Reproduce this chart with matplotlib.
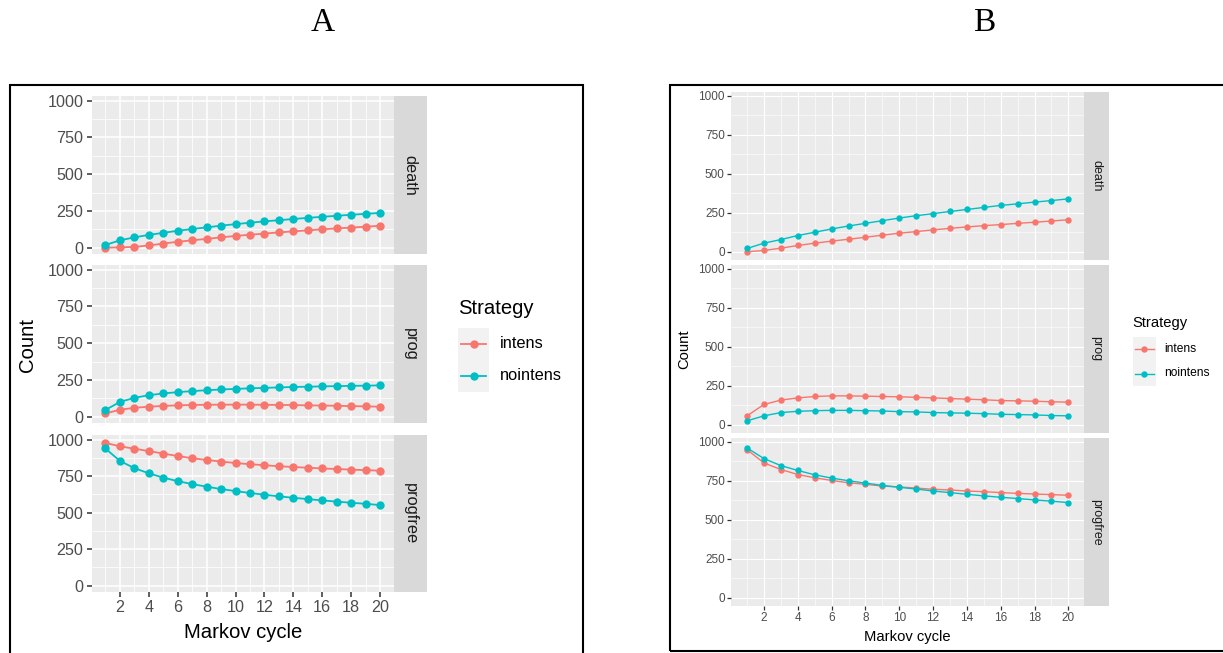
import matplotlib
matplotlib.use("Agg")
import matplotlib.pyplot as plt
from matplotlib.lines import Line2D
from matplotlib.patches import Rectangle

plt.rcParams["font.family"] = ["Liberation Sans", "DejaVu Sans"]

# --- data ---
cycles = list(range(1, 21))
states = ["death", "prog", "progfree"]
strategies = ["intens", "nointens"]
colors = {"intens": "#F8766D", "nointens": "#00BFC4"}

# panel A
a_death_intens = [0, 2, 5, 15, 28, 40, 50, 60, 70, 80, 88, 96, 104, 111, 118, 125, 131, 137, 143, 149]
a_death_nointens = [18, 50, 70, 87, 101, 115, 127, 138, 150, 160, 170, 179, 187, 195, 203, 210, 217, 224, 230, 237]
a_prog_intens = [22, 47, 60, 68, 73, 77, 80, 81, 82, 82, 82, 81, 80, 79, 77, 76, 74, 72, 70, 68]
a_prog_nointens = [45, 100, 128, 146, 158, 167, 174, 180, 185, 189, 193, 196, 199, 202, 204, 206, 208, 210, 211, 213]
a_progfree_intens = [978, 955, 938, 922, 905, 888, 873, 861, 850, 840, 832, 825, 818, 813, 808, 803, 799, 795, 791, 788]
a_progfree_nointens = [940, 855, 805, 770, 740, 716, 696, 678, 662, 648, 635, 623, 612, 602, 593, 584, 576, 568, 561, 552]

# panel B
b_death_intens = [0, 8, 23, 40, 55, 68, 80, 93, 106, 119, 129, 140, 150, 159, 167, 174, 182, 189, 197, 205]
b_death_nointens = [21, 55, 78, 104, 125, 146, 165, 182, 199, 216, 231, 244, 258, 271, 284, 297, 307, 318, 328, 339]
b_prog_intens = [57, 130, 158, 172, 181, 185, 185, 183, 181, 179, 176, 172, 168, 164, 160, 155, 153, 151, 147, 145]
b_prog_nointens = [25, 57, 78, 86, 90, 92, 92, 90, 88, 84, 82, 78, 76, 74, 71, 67, 65, 63, 59, 57]
b_progfree_intens = [949, 864, 822, 790, 769, 752, 737, 727, 716, 710, 703, 695, 691, 684, 680, 674, 669, 665, 661, 657]
b_progfree_nointens = [960, 892, 847, 816, 788, 767, 750, 735, 720, 708, 697, 684, 674, 663, 653, 644, 636, 627, 619, 610]

data_a = {
    "death": {"intens": a_death_intens, "nointens": a_death_nointens},
    "prog": {"intens": a_prog_intens, "nointens": a_prog_nointens},
    "progfree": {"intens": a_progfree_intens, "nointens": a_progfree_nointens},
}
data_b = {
    "death": {"intens": b_death_intens, "nointens": b_death_nointens},
    "prog": {"intens": b_prog_intens, "nointens": b_prog_nointens},
    "progfree": {"intens": b_progfree_intens, "nointens": b_progfree_nointens},
}

W, H = 1223, 653
fig = plt.figure(figsize=(W / 100, H / 100), dpi=100)


def fx(x):
    return x / W


def fy(y):
    return 1 - y / H


def rect(x0, y0, x1, y1):
    return [fx(x0), fy(y1), (x1 - x0) / W, (y1 - y0) / H]


def draw_chart(data, g):
    for i, state in enumerate(states):
        top, bottom = g["rows"][i]
        ax = fig.add_axes(rect(g["left"], top, g["right"], bottom))
        ax.set_facecolor("#EBEBEB")
        for sp in ax.spines.values():
            sp.set_visible(False)
        ax.set_xlim(0.05, 20.95)
        ax.set_ylim(*g["ylim"])
        ax.set_xticks(range(2, 21, 2))
        ax.set_xticks(range(1, 21, 2), minor=True)
        ax.set_yticks([0, 250, 500, 750, 1000])
        ax.set_yticks([125, 375, 625, 875], minor=True)
        ax.set_axisbelow(True)
        ax.grid(which="major", color="white", lw=g["grid"])
        ax.grid(which="minor", color="white", lw=g["grid"] / 2)
        ax.tick_params(which="major", length=g["ticklen"], width=g["tickw"], color="#333333",
                       labelsize=g["tick"], labelcolor="#4D4D4D", pad=g["pad"])
        ax.tick_params(which="minor", length=0)
        if i < 2:
            ax.tick_params(axis="x", which="major", length=0, labelbottom=False)
        for s in strategies:
            ax.plot(cycles, data[state][s], color=colors[s], lw=g["lw"],
                    marker="o", ms=g["ms"], mew=0, clip_on=False, zorder=3)

        sax = fig.add_axes(rect(g["right"], top, g["strip_right"], bottom))
        sax.set_facecolor("#D9D9D9")
        sax.set_xticks([])
        sax.set_yticks([])
        for sp in sax.spines.values():
            sp.set_visible(False)
        sax.text(0.5, 0.5, state, rotation=-90, ha="center", va="center",
                 fontsize=g["strip"], color="#1A1A1A", transform=sax.transAxes)

    fig.text(fx(g["xlab"][0]), fy(g["xlab"][1]), "Markov cycle", ha="center", va="center",
             fontsize=g["title"], color="black")
    fig.text(fx(g["ylab"][0]), fy(g["ylab"][1]), "Count", ha="center", va="center",
             rotation=90, fontsize=g["title"], color="black")

    # legend
    lx0, lx1 = g["key_x"]
    fig.text(fx(lx0), fy(g["leg_title_y"]), "Strategy", ha="left", va="center",
             fontsize=g["title"], color="black")
    for (ky0, ky1), s in zip(g["key_rows"], strategies):
        fig.add_artist(Rectangle((fx(lx0), fy(ky1)), (lx1 - lx0) / W, (ky1 - ky0) / H,
                                 transform=fig.transFigure, facecolor="#F2F2F2", edgecolor="none"))
        ym = fy((ky0 + ky1) / 2)
        pad = (lx1 - lx0) * 0.1
        fig.add_artist(Line2D([fx(lx0 + pad), fx(lx1 - pad)], [ym, ym], transform=fig.transFigure,
                              color=colors[s], lw=g["lw"]))
        fig.add_artist(Line2D([fx((lx0 + lx1) / 2)], [ym], transform=fig.transFigure,
                              color=colors[s], marker="o", ms=g["ms"], mew=0, lw=0))
        fig.text(fx(g["label_x"]), ym, s, ha="left", va="center", fontsize=g["tick"] * 1.02,
                 color="black")


geom_a = dict(left=91.6, right=393.9, strip_right=426.7,
              rows=[(96, 254), (265, 423), (435, 592)], ylim=(-43, 1032),
              tick=11.6, title=14.6, strip=11.8, ms=6.0, lw=1.3, grid=1.1,
              ticklen=3.7, tickw=1.1, pad=2.2,
              xlab=(242.7, 633), ylab=(27, 345),
              leg_title_y=309, key_x=(458, 489), key_rows=[(328, 360), (360, 392)], label_x=500)

geom_b = dict(left=731, right=1084.4, strip_right=1108.8,
              rows=[(92, 260), (265, 433), (438, 606)], ylim=(-53, 1024),
              tick=8.5, title=10.6, strip=9.0, ms=4.6, lw=1.0, grid=0.8,
              ticklen=2.9, tickw=0.9, pad=1.6,
              xlab=(907.7, 637), ylab=(684, 349),
              leg_title_y=323, key_x=(1132.7, 1156), key_rows=[(337, 361), (361, 386)], label_x=1164)

draw_chart(data_a, geom_a)
draw_chart(data_b, geom_b)

# frames around the two figures
fig.add_artist(Rectangle((fx(10), fy(665)), (583 - 10) / W, (665 - 85) / H, transform=fig.transFigure,
                         fill=False, edgecolor="black", lw=1.5))
fig.add_artist(Rectangle((fx(670), fy(651)), (1235 - 670) / W, (651 - 85) / H, transform=fig.transFigure,
                         fill=False, edgecolor="black", lw=1.5))

fig.text(fx(323), fy(23), "A", ha="center", va="center", fontsize=24,
         family=["Liberation Serif", "DejaVu Serif"])
fig.text(fx(984), fy(23), "B", ha="center", va="center", fontsize=24,
         family=["Liberation Serif", "DejaVu Serif"])

fig.savefig("out.png", dpi=100)
